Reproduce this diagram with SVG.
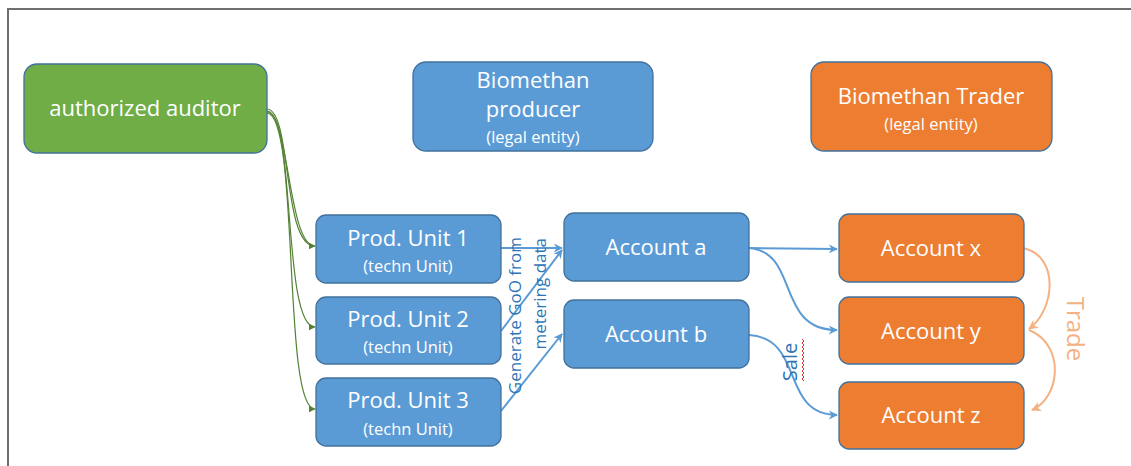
<svg xmlns="http://www.w3.org/2000/svg" width="1131" height="466" viewBox="0 0 1131 466">
<style>
.nd{stroke:#41719C;stroke-width:1.3}
.bl{fill:#5B9BD5}.gr{fill:#70AD47}.or{fill:#ED7D31}
.t{font-family:"Open Sans","Liberation Sans",sans-serif;fill:#fff;text-anchor:middle}
.big{font-size:22px}.sm{font-size:16.5px}
.gc{fill:none;stroke:#548235;stroke-width:1.2}
.bc{fill:none;stroke:#5B9BD5;stroke-width:2}
.oc{fill:none;stroke:#F4B183;stroke-width:2}
.lbl{font-family:"Open Sans","Liberation Sans",sans-serif}
</style>
<defs>
<marker id="ag" viewBox="0 0 10 10" refX="9" refY="5" markerWidth="7" markerHeight="7" markerUnits="userSpaceOnUse" orient="auto"><path d="M0,0 L10,5 L0,10 z" fill="#548235"/></marker>
<marker id="ab" viewBox="0 0 10 10" refX="9" refY="5" markerWidth="9" markerHeight="9" markerUnits="userSpaceOnUse" orient="auto"><path d="M0,0 L10,5 L0,10 L3,5 z" fill="#5B9BD5"/></marker>
<marker id="ao" viewBox="0 0 10 10" refX="9" refY="5" markerWidth="10" markerHeight="10" markerUnits="userSpaceOnUse" orient="auto"><path d="M0,0 L10,5 L0,10 L3,5 z" fill="#F4B183"/></marker>
</defs>
<rect width="1131" height="466" fill="#fff"/>
<path d="M8,466 V9 H1131" fill="none" stroke="#6E6E6E" stroke-width="2"/>

<g id="connectors">
<path class="gc" d="M267,109 C292,110 282,246 315,246" marker-end="url(#ag)"/>
<path class="gc" d="M267,111 C296,112 282,327 315,327" marker-end="url(#ag)"/>
<path class="gc" d="M267,113 C300,116 282,409 315,409" marker-end="url(#ag)"/>
<path class="gc" d="M267,112 C289,112 288,246 315,246"/>
<path class="bc" d="M501,248 L562,248" marker-end="url(#ab)"/>
<path class="bc" d="M501,331 L562,250" marker-end="url(#ab)"/>
<path class="bc" d="M501,411 L562,334" marker-end="url(#ab)"/>
<path class="bc" d="M749,248 L837,249" marker-end="url(#ab)"/>
<path class="bc" d="M749,248 C800,252 775,330 837,330" marker-end="url(#ab)"/>
<path class="bc" d="M749,335 C805,338 780,415 837,415" marker-end="url(#ab)"/>
<path class="oc" d="M1023,248 C1060,256 1055,310 1029,329" marker-end="url(#ao)"/>
<path class="oc" d="M1029,330 C1066,345 1060,398 1032,410" marker-end="url(#ao)"/>
<text class="lbl" fill="#2E75B6" style="font-size:17px" text-anchor="end" transform="translate(521,237) rotate(-90)">Generate GoO from</text>
<text class="lbl" fill="#2E75B6" style="font-size:17px" text-anchor="end" transform="translate(546,238) rotate(-90)">metering data</text>
<text class="lbl" fill="#2E75B6" style="font-size:20px" text-anchor="middle" transform="translate(797,362) rotate(-90)">Sale</text>
<path d="M802,339 l2,2 l-2,2 l2,2 l-2,2 l2,2 l-2,2 l2,2 l-2,2 l2,2 l-2,2 l2,2 l-2,2 l2,2 l-2,2 l2,2 l-2,2 l2,2 l-2,2 l2,2 l-2,2 l2,2" fill="none" stroke="#E03030" stroke-width="1"/>
<text class="lbl" fill="#F4B183" style="font-size:24px" text-anchor="middle" transform="translate(1067,329) rotate(90)">Trade</text>
</g>

<g id="auditor"><rect class="nd gr" x="24" y="64" width="243" height="89" rx="13"/><text class="t big" x="145" y="116">authorized auditor</text></g>
<g id="producer"><rect class="nd bl" x="413" y="62" width="240" height="89" rx="13"/><text class="t big" x="533" y="88">Biomethan</text><text class="t big" x="533" y="117">producer</text><text class="t sm" x="533" y="143">(legal entity)</text></g>
<g id="trader"><rect class="nd or" x="811" y="62" width="241" height="89" rx="13"/><text class="t big" x="931" y="104">Biomethan Trader</text><text class="t sm" x="931" y="130">(legal entity)</text></g>

<g id="unit1"><rect class="nd bl" x="316" y="215" width="185" height="68" rx="10"/><text class="t big" x="408" y="246">Prod. Unit 1</text><text class="t sm" x="408" y="272">(techn Unit)</text></g>
<g id="unit2"><rect class="nd bl" x="316" y="297" width="185" height="67" rx="10"/><text class="t big" x="408" y="327">Prod. Unit 2</text><text class="t sm" x="408" y="353">(techn Unit)</text></g>
<g id="unit3"><rect class="nd bl" x="316" y="378" width="185" height="68" rx="10"/><text class="t big" x="408" y="408">Prod. Unit 3</text><text class="t sm" x="408" y="435">(techn Unit)</text></g>

<g id="accA"><rect class="nd bl" x="564" y="213" width="185" height="68" rx="10"/><text class="t big" x="656" y="255">Account a</text></g>
<g id="accB"><rect class="nd bl" x="564" y="300" width="185" height="68" rx="10"/><text class="t big" x="656" y="342">Account b</text></g>

<g id="accX"><rect class="nd or" x="839" y="214" width="185" height="68" rx="10"/><text class="t big" x="931" y="256">Account x</text></g>
<g id="accY"><rect class="nd or" x="839" y="297" width="185" height="67" rx="10"/><text class="t big" x="931" y="339">Account y</text></g>
<g id="accZ"><rect class="nd or" x="839" y="382" width="185" height="67" rx="10"/><text class="t big" x="931" y="423">Account z</text></g>
</svg>
